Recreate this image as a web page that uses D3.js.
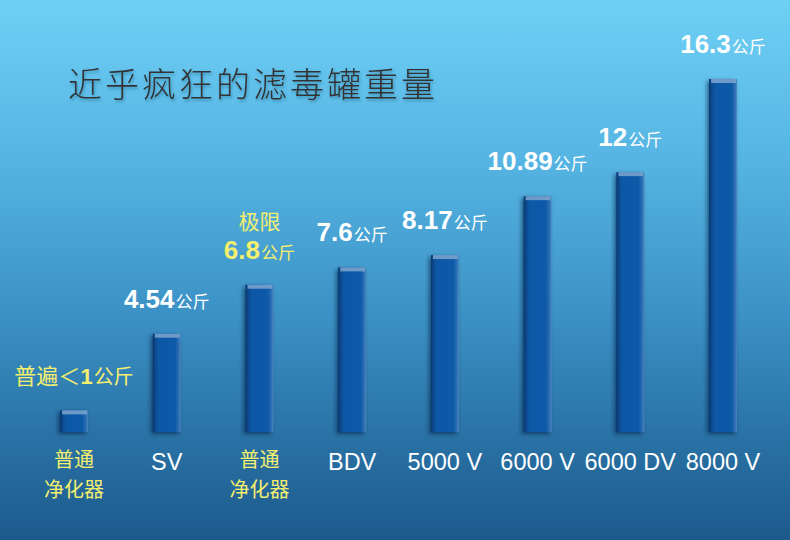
<!DOCTYPE html>
<html><head><meta charset="utf-8">
<script src="https://cdn.jsdelivr.net/npm/d3@7/dist/d3.min.js"></script>
<style>html,body{margin:0;padding:0;overflow:hidden;background:#3a8cc0}</style>
</head><body>
<svg id="c" width="790" height="540"></svg>
<script>
const categories = ["普通净化器","SV","普通净化器","BDV","5000 V","6000 V","6000 DV","8000 V"];
const values = [1, 4.54, 6.8, 7.6, 8.17, 10.89, 12, 16.3];
const valueLabels = ["1","4.54","6.8","7.6","8.17","10.89","12","16.3"];
const highlight = [true,false,true,false,false,false,false,false];
const title = "近乎疯狂的滤毒罐重量";
const unit = "公斤";

const W=790,H=540;
const svg=d3.select("#c");
const defs=svg.append("defs");
const bg=defs.append("linearGradient").attr("id","bg").attr("x1",0).attr("y1",0).attr("x2",0).attr("y2",1);
[[0,"#6fd0f5"],[0.3,"#55b4e2"],[0.6,"#3a8fc3"],[0.8,"#2a73a6"],[1,"#1d5a8c"]].forEach(s=>bg.append("stop").attr("offset",s[0]).attr("stop-color",s[1]));
const bg2=defs.append("linearGradient").attr("id","bar").attr("x1",0).attr("y1",0).attr("x2",1).attr("y2",0);
[[0,"#06366d"],[0.1,"#0a4a90"],[0.22,"#0c58a6"],[0.8,"#0d5aa8"],[0.92,"#2a6cb2"],[1,"#4d86c0"]].forEach(s=>bg2.append("stop").attr("offset",s[0]).attr("stop-color",s[1]));
const f=defs.append("filter").attr("id","sh").attr("x","-30%").attr("y","-10%").attr("width","160%").attr("height","130%");
f.append("feDropShadow").attr("dx",-2).attr("dy",2).attr("stdDeviation",2).attr("flood-color","#00203f").attr("flood-opacity",0.6);
const ft=defs.append("filter").attr("id","tsh").attr("x","-5%").attr("y","-20%").attr("width","110%").attr("height","150%");
ft.append("feDropShadow").attr("dx",1).attr("dy",2).attr("stdDeviation",1.5).attr("flood-color","#1a4a70").attr("flood-opacity",0.45);

svg.append("rect").attr("width",W).attr("height",H).attr("fill","url(#bg)");

const x=d3.scalePoint().domain(d3.range(categories.length)).range([74,723]);
const y=d3.scaleLinear().domain([0,16.3]).range([432,79]);
const bw=x.step()*0.3;

// title
svg.append("text").attr("x",68).attr("y",97).text(title)
 .attr("font-family","'Noto Sans CJK SC'").attr("font-size",34).attr("font-weight",300)
 .attr("fill","#333").attr("letter-spacing",3).attr("filter","url(#tsh)");

// bars
const g=svg.append("g");
values.forEach((v,i)=>{
  const bx=x(i)-bw/2, top=y(v);
  g.append("rect").attr("x",bx).attr("y",top).attr("width",bw).attr("height",y(0)-top)
   .attr("fill","url(#bar)").attr("filter","url(#sh)");
  g.append("rect").attr("x",bx+2).attr("y",top).attr("width",bw-3).attr("height",4).attr("fill","#7fa6cf").attr("opacity",0.85);
});

// baseline
svg.append("line").attr("x1",27).attr("x2",768).attr("y1",432.5).attr("y2",432.5)
 .attr("stroke","#ffffff").attr("stroke-width",2).attr("filter","url(#sh)");

// value labels
const yellow="#f5ef6e";
values.forEach((v,i)=>{
  const cx=x(i), ty=y(v)-26;
  const col=highlight[i]?yellow:"#ffffff";
  const t=svg.append("text").attr("x",cx).attr("y",ty).attr("text-anchor","middle").attr("fill",col);
  if(i===0){
    t.append("tspan").text("普遍＜").attr("font-family","'Noto Sans CJK SC'").attr("font-size",22);
  }
  t.append("tspan").text(valueLabels[i]).attr("font-family","'Liberation Sans',Arial").attr("font-weight","bold").attr("font-size",i===0?22:26);
  t.append("tspan").text(unit).attr("font-family","'Noto Sans CJK SC'").attr("font-size",i===0?20:17).attr("dx",1);
  if(i===2){
    svg.append("text").attr("x",cx).attr("y",ty-30).attr("text-anchor","middle").attr("fill",yellow)
     .attr("font-family","'Noto Sans CJK SC'").attr("font-size",21).text("极限");
  }
});

// category labels
categories.forEach((c,i)=>{
  const cx=x(i);
  const col=highlight[i]?yellow:"#ffffff";
  if(c==="普通净化器"){
    [["普通",467],["净化器",496.5]].forEach(d=>{
      svg.append("text").attr("x",cx).attr("y",d[1]).attr("text-anchor","middle").attr("fill",col)
       .attr("font-family","'Noto Sans CJK SC'").attr("font-size",20).text(d[0]);
    });
  } else {
    svg.append("text").attr("x",cx).attr("y",470).attr("text-anchor","middle").attr("fill",col)
     .attr("font-family","'Liberation Sans',Arial").attr("font-size",23.5).text(c);
  }
});
</script>
</body></html>
